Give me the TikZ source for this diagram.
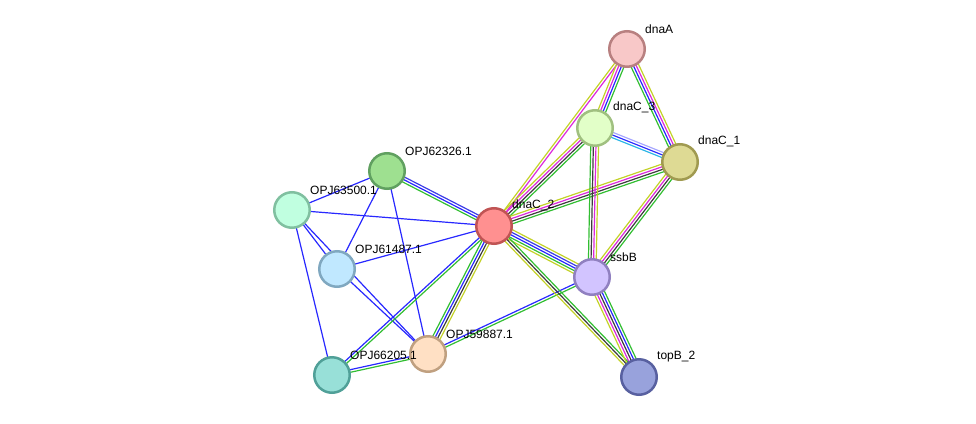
\documentclass[tikz,border=0pt]{standalone}
\usepackage{fontspec}
\setmainfont{Liberation Sans}
\usetikzlibrary{calc,backgrounds}
\definecolor{sgreen}{RGB}{50,190,50}
\definecolor{sblue}{RGB}{40,40,255}
\definecolor{sdblue}{RGB}{60,60,230}
\definecolor{sblack}{RGB}{60,60,60}
\definecolor{smag}{RGB}{220,40,220}
\definecolor{syel}{RGB}{195,210,40}
\definecolor{scyan}{RGB}{40,180,230}
\definecolor{slblue}{RGB}{165,165,255}
\tikzset{
  prot/.style={circle, minimum size=35.5pt, inner sep=0pt, line width=2.5pt},
  lbl/.style={font=\fontsize{12}{13}\selectfont, anchor=south west, inner sep=0pt},
  eline/.style={line width=1.2pt}
}
\newcommand\medge[4]{%
  \foreach \c [count=\i] in {#4} {%
    \pgfmathsetmacro\o{(\i-(#3+1)/2)*2.6}%
    \draw[eline,\c] ($(#1)!\o pt!90:(#2)$) -- ($(#2)!\o pt!-90:(#1)$);%
  }%
}
\begin{document}
\begin{tikzpicture}[x=1pt,y=-1pt]
\useasboundingbox (0,0) rectangle (976,423);
% nodes
\node[prot, fill={rgb,255:red,248;green,200;blue,200}, draw={rgb,255:red,184;green,128;blue,128}] (dnaA) at (627,49) {};
\node[prot, fill={rgb,255:red,226;green,255;blue,200}, draw={rgb,255:red,160;green,192;blue,128}] (dnaC3) at (595,128) {};
\node[prot, fill={rgb,255:red,222;green,218;blue,148}, draw={rgb,255:red,160;green,154;blue,80}] (dnaC1) at (680,162) {};
\node[prot, fill={rgb,255:red,255;green,144;blue,144}, draw={rgb,255:red,192;green,84;blue,84}] (dnaC2) at (494,226) {};
\node[prot, fill={rgb,255:red,210;green,196;blue,255}, draw={rgb,255:red,144;green,128;blue,192}] (ssbB) at (592,277) {};
\node[prot, fill={rgb,255:red,152;green,162;blue,220}, draw={rgb,255:red,88;green,96;blue,160}] (topB) at (639,377) {};
\node[prot, fill={rgb,255:red,158;green,224;blue,144}, draw={rgb,255:red,96;green,160;blue,96}] (p62326) at (387,171) {};
\node[prot, fill={rgb,255:red,192;green,255;blue,224}, draw={rgb,255:red,128;green,192;blue,160}] (p63500) at (292,210) {};
\node[prot, fill={rgb,255:red,192;green,232;blue,255}, draw={rgb,255:red,128;green,168;blue,192}] (p61487) at (337,269) {};
\node[prot, fill={rgb,255:red,152;green,224;blue,216}, draw={rgb,255:red,80;green,160;blue,152}] (p66205) at (332,375) {};
\node[prot, fill={rgb,255:red,255;green,224;blue,196}, draw={rgb,255:red,192;green,160;blue,128}] (p59887) at (428,354) {};
% edges
\begin{scope}[on background layer]
\medge{p63500}{p62326}{1}{sblue}
\medge{p63500}{dnaC2}{1}{sblue}
\medge{p62326}{p61487}{1}{sblue}
\medge{p62326}{p59887}{1}{sblue}
\medge{p63500}{p61487}{1}{sblue}
\medge{p63500}{p59887}{1}{sblue}
\medge{p61487}{p59887}{1}{sblue}
\medge{p61487}{dnaC2}{1}{sblue}
\medge{p63500}{p66205}{1}{sblue}
\medge{p62326}{dnaC2}{3}{sgreen,sblue,sdblue}
\medge{p66205}{p59887}{2}{sgreen,sblue}
\medge{p66205}{dnaC2}{2}{sgreen,sblue}
\medge{p59887}{dnaC2}{4}{syel,sblack,sblue,sgreen}
\medge{p59887}{ssbB}{2}{sgreen,sblue}
\medge{dnaC2}{ssbB}{5}{syel,sgreen,sblue,sdblue,syel}
\medge{dnaC2}{topB}{3}{syel,sblack,sgreen}
\medge{dnaC2}{dnaA}{2}{smag,syel}
\medge{dnaC2}{dnaC3}{4}{sgreen,sblack,smag,syel}
\medge{dnaC2}{dnaC1}{4}{sgreen,sblack,smag,syel}
\medge{dnaA}{dnaC3}{4}{syel,smag,sblue,sgreen}
\medge{dnaA}{dnaC1}{4}{sgreen,sblue,smag,syel}
\medge{dnaC3}{dnaC1}{3}{scyan,sblue,slblue}
\medge{dnaC3}{ssbB}{4}{sgreen,sblack,smag,syel}
\medge{dnaC1}{ssbB}{4}{syel,smag,sblack,sgreen}
\medge{ssbB}{topB}{5}{syel,smag,sblack,sblue,sgreen}
\end{scope}
% labels
\node[lbl] (ldnaA) at ($(dnaA)+(18,-15)$) {dnaA};
\node[lbl] (ldnaC3) at ($(dnaC3)+(18,-15)$) {dnaC\_3};
\node[lbl] (ldnaC1) at ($(dnaC1)+(18,-15)$) {dnaC\_1};
\node[lbl] (ldnaC2) at ($(dnaC2)+(18,-15)$) {dnaC\_2};
\node[lbl] (lssbB) at ($(ssbB)+(18,-15)$) {ssbB};
\node[lbl] (ltopB) at ($(topB)+(18,-15)$) {topB\_2};
\node[lbl] (l62326) at ($(p62326)+(18,-15)$) {OPJ62326.1};
\node[lbl] (l63500) at ($(p63500)+(18,-15)$) {OPJ63500.1};
\node[lbl] (l61487) at ($(p61487)+(18,-15)$) {OPJ61487.1};
\node[lbl] (l66205) at ($(p66205)+(18,-15)$) {OPJ66205.1};
\node[lbl] (l59887) at ($(p59887)+(18,-15)$) {OPJ59887.1};
\end{tikzpicture}
\end{document}
